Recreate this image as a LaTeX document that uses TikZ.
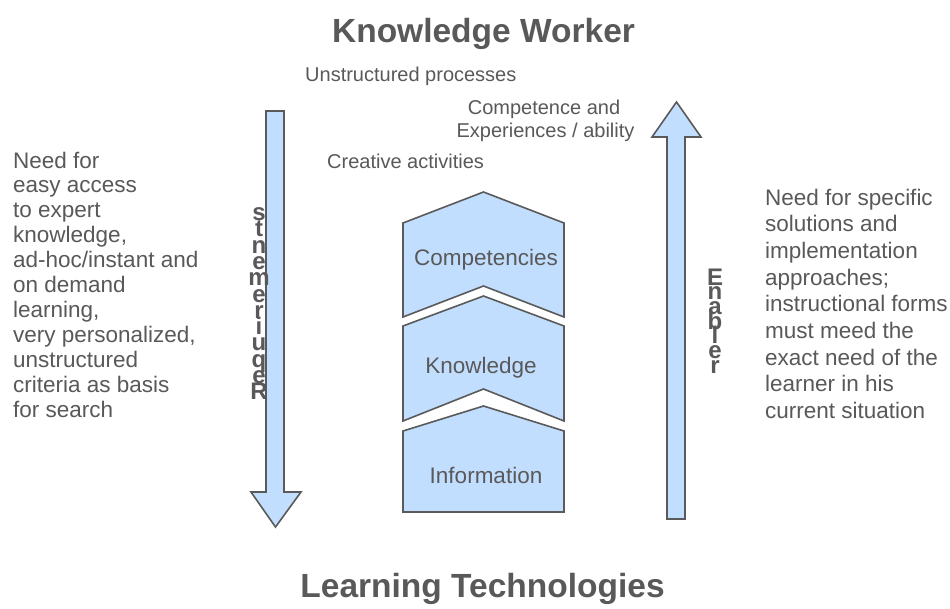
\documentclass[tikz,border=0pt]{standalone}
\usepackage{fontspec}
\setmainfont{Liberation Sans}
\definecolor{txt}{HTML}{595959}
\definecolor{fillb}{HTML}{C2DEFF}
\definecolor{edgec}{HTML}{5A5A5A}
\begin{document}
\begin{tikzpicture}[x=1pt,y=-1pt,
  shapest/.style={fill=fillb, draw=edgec, line width=1.6pt, line join=miter},
  sidetxt/.style={inner sep=0, text=txt, font=\fontsize{22.5}{26}\selectfont},
  toptxt/.style={inner sep=0, text=txt, font=\fontsize{20}{23}\selectfont},
  boxtxt/.style={inner sep=0, text=txt, font=\fontsize{22.5}{26}\selectfont},
  titletxt/.style={inner sep=0, text=txt, font=\fontsize{33.5}{38}\selectfont\bfseries},
  vletter/.style={inner sep=0, text=txt, font=\fontsize{24}{24}\selectfont\bfseries}]
\useasboundingbox[fill=white] (0,0) rectangle (950,608);

% titles
\node[titletxt, anchor=base] (kw) at (483.5,42) {Knowledge Worker};
\node[titletxt, anchor=base] (lt) at (482.5,597) {Learning Technologies};

% top labels
\node[toptxt, anchor=base west] (up) at (305,81) {Unstructured processes};
\node[toptxt, anchor=base] (ce1) at (544,114) {Competence and};
\node[toptxt, anchor=base] (ce2) at (545.5,137) {Experiences / ability};
\node[toptxt, anchor=base west] (ca) at (327,168) {Creative activities};

% down arrow (Requirements)
\draw[shapest] (266,111) -- (284,111) -- (284,492) -- (301,492) -- (275.5,527)
  -- (251,492) -- (266,492) -- cycle;
% up arrow (Enabler)
\draw[shapest] (667,519) -- (685,519) -- (685,137) -- (701,137) -- (676.5,102)
  -- (652,137) -- (667,137) -- cycle;

% chevrons
\draw[shapest] (403,223) -- (483.5,192) -- (564,223) -- (564,317) -- (483.5,286) -- (403,317) -- cycle;
\draw[shapest] (403,326) -- (483.5,296) -- (564,326) -- (564,421) -- (483.5,389) -- (403,421) -- cycle;
\draw[shapest] (403,431) -- (483.5,406) -- (564,431) -- (564,512) -- (403,512) -- cycle;
\node[boxtxt] (comp) at (486,260) {Competencies};
\node[boxtxt] (know) at (481,368) {Knowledge};
\node[boxtxt] (info) at (486,475) {Information};

% vertical stacked letters
\foreach \ch [count=\i from 0] in {s,t,n,e,m,e,r,i,u,q,e,R}
  \node[vletter, anchor=base] (rq\i) at (259,220.5+16.3*\i) {\ch};
\foreach \ch [count=\i from 0] in {E,n,a,b,l,e,r}
  \node[vletter, anchor=base] (en\i) at (715,285+14.7*\i) {\ch};

% left text
\foreach \t [count=\i from 0] in {{Need for},{easy access},{to expert},{knowledge,},{ad-hoc/instant and},{on demand},{learning,},{very personalized,},{unstructured},{criteria as basis},{for search}}
  \node[sidetxt, anchor=base west] (l\i) at (13,168+24.9*\i) {\t};

% right text
\foreach \t [count=\i from 0] in {{Need for specific},{solutions and},{implementation},{approaches;},{instructional forms},{must meed  the},{exact need of the},{learner in his},{current situation}}
  \node[sidetxt, anchor=base west] (r\i) at (765,205+26.7*\i) {\t};
\end{tikzpicture}
\end{document}
